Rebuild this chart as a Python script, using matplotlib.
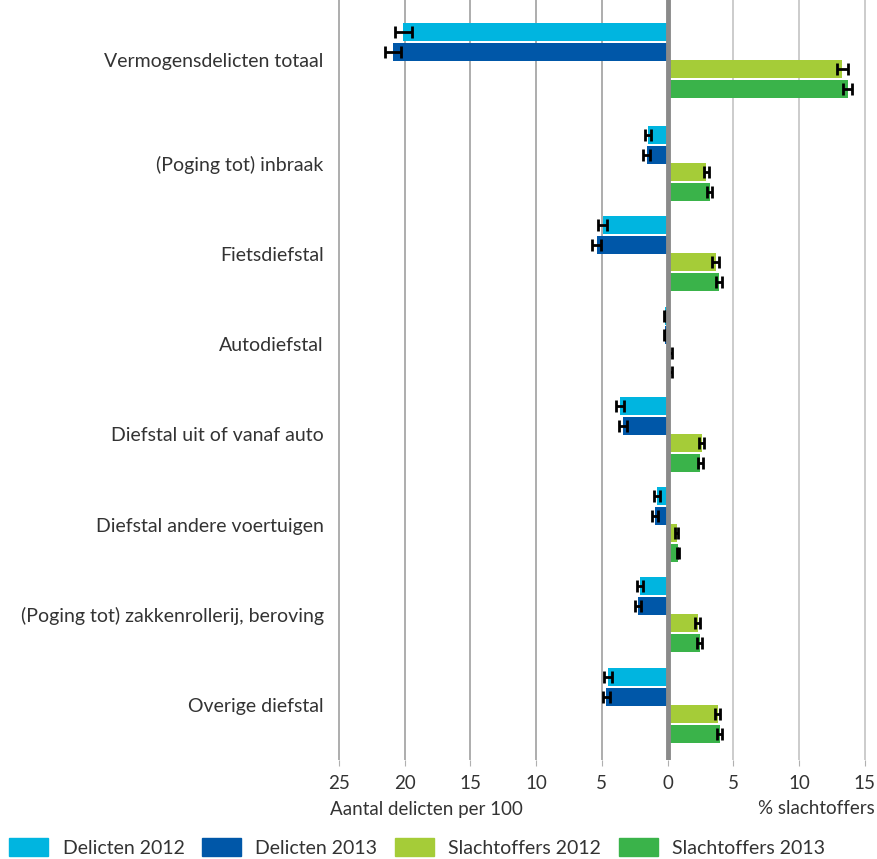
import numpy as np
import matplotlib.pyplot as plt
from matplotlib.patches import Patch
from matplotlib.ticker import FuncFormatter

plt.rcParams['font.family'] = ['Lato', 'DejaVu Sans']

# data
categories = ['Vermogensdelicten totaal', '(Poging tot) inbraak', 'Fietsdiefstal',
              'Autodiefstal', 'Diefstal uit of vanaf auto', 'Diefstal andere voertuigen',
              '(Poging tot) zakkenrollerij, beroving', 'Overige diefstal']
delicten_2012 = [20.1, 1.5, 4.95, 0.2, 3.6, 0.8, 2.1, 4.5]
delicten_2013 = [20.9, 1.6, 5.4, 0.2, 3.4, 0.95, 2.25, 4.65]
slachtoffers_2012 = [13.3, 2.95, 3.65, 0.2, 2.6, 0.7, 2.3, 3.8]
slachtoffers_2013 = [13.7, 3.2, 3.9, 0.2, 2.5, 0.8, 2.45, 3.95]
err_d2012 = [0.65, 0.25, 0.35, 0.1, 0.3, 0.2, 0.2, 0.3]
err_d2013 = [0.6, 0.25, 0.35, 0.1, 0.3, 0.2, 0.2, 0.3]
err_s2012 = [0.4, 0.2, 0.25, 0.1, 0.2, 0.1, 0.2, 0.2]
err_s2013 = [0.35, 0.2, 0.25, 0.1, 0.2, 0.1, 0.2, 0.2]

labels = ['Delicten 2012', 'Delicten 2013', 'Slachtoffers 2012', 'Slachtoffers 2013']
colors = ['#00b5e0', '#0057a8', '#a5cc38', '#3ab34a']

# totaal staat iets verder van de rest af
pos = np.arange(len(categories), dtype=float)
pos[0] = -0.14

fig = plt.figure(figsize=(8.78, 8.59), dpi=100)
ax = fig.add_axes([0.3815, 0.115, 0.608, 0.885])

h = 0.2
series = [(-np.array(delicten_2012), err_d2012, -0.315),
          (-np.array(delicten_2013), err_d2013, -0.095),
          (np.array(slachtoffers_2012), err_s2012, 0.095),
          (np.array(slachtoffers_2013), err_s2013, 0.315)]
for (vals, err, off), c in zip(series, colors):
    ax.barh(pos + off, vals, height=h, color=c, zorder=3)
    ax.errorbar(vals, pos + off, xerr=err, fmt='none', ecolor='black',
                elinewidth=2, capsize=4.5, capthick=2, zorder=4)

# gridlijnen
for x in range(-25, 16, 5):
    if x == 0:
        continue
    ax.axvline(x, color='#a0a0a0' if x < 0 else '#c4c4c4', lw=1.2, zorder=1)
ax.axvline(0, color='#8a8a8a', lw=3.5, zorder=5)

ax.set_xlim(-25.3, 15.3)
ax.set_ylim(7.61, -0.81)
ax.set_xticks(range(-25, 16, 5))
ax.xaxis.set_major_formatter(FuncFormatter(lambda v, p: f'{abs(int(v))}'))
ax.tick_params(axis='x', length=4, color='#b0b0b0', labelsize=13.5,
               labelcolor='#333333', pad=7)
ax.set_yticks(pos)
ax.set_yticklabels(categories)
ax.tick_params(axis='y', length=0, labelsize=14, labelcolor='#333333', pad=8)
for s in ax.spines.values():
    s.set_visible(False)

fig.text(330 / 878, 1 - 809 / 859, 'Aantal delicten per 100', ha='left', va='center',
         fontsize=13.5, color='#333333')
fig.text(875 / 878, 1 - 809 / 859, '% slachtoffers', ha='right', va='center',
         fontsize=13.5, color='#333333')

handles = [Patch(color=c, label=l) for c, l in zip(colors, labels)]
fig.legend(handles=handles, loc='lower left', bbox_to_anchor=(-0.003, -0.011), ncol=4,
           frameon=False, fontsize=14, handlelength=2.0, handleheight=1.05,
           handletextpad=0.75, columnspacing=0.9, labelcolor='#333333',
           borderaxespad=0.2)

fig.savefig('out.png', dpi=100)
